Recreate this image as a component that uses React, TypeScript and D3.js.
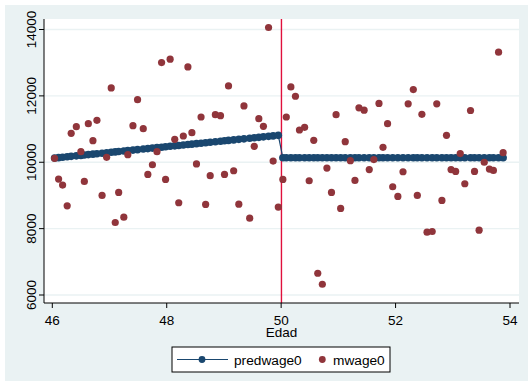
import React from "react";
import * as d3 from "d3";

const ages = [46.04, 46.11, 46.18, 46.26, 46.33, 46.42, 46.50, 46.56, 46.63, 46.71, 46.78, 46.87, 46.95, 47.03, 47.10, 47.16, 47.25, 47.32, 47.41, 47.49, 47.59, 47.67, 47.75, 47.83, 47.91, 47.98, 48.06, 48.14, 48.21, 48.29, 48.37, 48.44, 48.52, 48.60, 48.68, 48.76, 48.85, 48.94, 49.01, 49.08, 49.17, 49.26, 49.35, 49.45, 49.53, 49.61, 49.69, 49.78, 49.86, 49.95,
  50.03, 50.09, 50.17, 50.25, 50.32, 50.41, 50.49, 50.57, 50.64, 50.72, 50.80, 50.88, 50.96, 51.04, 51.12, 51.21, 51.29, 51.36, 51.45, 51.54, 51.62, 51.71, 51.78, 51.86, 51.95, 52.04, 52.13, 52.22, 52.31, 52.38, 52.46, 52.55, 52.64, 52.72, 52.81, 52.89, 52.97, 53.05, 53.13, 53.21, 53.31, 53.38, 53.46, 53.55, 53.64, 53.71, 53.80, 53.88];

const mwage0 = [10117, 9493, 9312, 8688, 10871, 11072, 10318, 9423, 11163, 10650, 11264, 9000, 10147, 12239, 8185, 9091, 8346, 10227, 11103, 11887, 11012, 9634, 9925, 10318, 13004, 9483, 13105, 10690, 8779, 10791, 12873, 10891, 9950, 11364, 8728, 9594, 11435, 11404, 9634, 12300, 9744, 8738, 11696, 8316, 10479, 11314, 11083, 14060, 10036, 8648,
  9483, 11364, 12270, 11988, 10972, 11052, 9443, 10660, 6656, 6324, 9825, 9091, 11435, 8608, 10620, 10047, 9453, 11640, 11569, 9779, 10080, 11771, 10449, 11163, 9262, 8970, 9714, 11761, 12189, 9000, 11445, 7893, 7913, 11761, 8849, 10811, 9779, 9724, 10262, 9352, 11559, 9724, 7954, 10000, 9795, 9754, 13316, 10288];

const predwage0 = [10127, 10139, 10151, 10165, 10178, 10193, 10207, 10218, 10230, 10244, 10256, 10272, 10286, 10300, 10312, 10323, 10338, 10351, 10366, 10380, 10398, 10412, 10426, 10440, 10454, 10466, 10480, 10494, 10506, 10520, 10534, 10546, 10560, 10574, 10588, 10602, 10618, 10634, 10646, 10658, 10674, 10690, 10705, 10723, 10737, 10751, 10765, 10780, 10794, 10810,
  10135, 10135, 10135, 10135, 10135, 10135, 10135, 10135, 10135, 10135, 10135, 10135, 10135, 10135, 10135, 10135, 10135, 10135, 10135, 10135, 10135, 10135, 10135, 10135, 10135, 10135, 10135, 10135, 10135, 10135, 10135, 10135, 10135, 10135, 10135, 10135, 10135, 10135, 10135, 10135, 10135, 10135, 10135, 10135, 10135, 10135, 10135, 10135];

const xTicks = [46, 48, 50, 52, 54];
const yTicks = [6000, 8000, 10000, 12000, 14000];
const cutoff = [50];
const xLabel = "Edad";
const seriesNames = ["predwage0", "mwage0"];

const W = 528;
const H = 383;
const BG = "#EAF2F3";
const NAVY = "#1A476F";
const MAROON = "#90353B";
const RED = "#E0103C";
const FONT = "'Liberation Sans', Arial, sans-serif";

export default function App() {
  const plot = { left: 44, right: 519, top: 19, bottom: 303 };
  const x = d3.scaleLinear().domain([46, 54]).range([52.3, 510]);
  const y = d3.scaleLinear().domain([6000, 14000]).range([295, 29.5]);
  const line = d3
    .line<number>()
    .x((_, i) => x(ages[i]))
    .y((d) => y(d));

  return (
    <div style={{ position: "fixed", left: 0, top: 0, width: W, height: H }}>
      <svg width={W} height={H} style={{ display: "block" }} fontFamily={FONT}>
        <rect x={0} y={0} width={W} height={H} fill="#ffffff" />
        <rect x={5} y={5} width={W - 5} height={H - 7} fill={BG} />
        <rect x={plot.left} y={plot.top} width={plot.right - plot.left} height={plot.bottom - plot.top} fill="#ffffff" />
        {yTicks.map((t) => (
          <line key={"g" + t} x1={plot.left} x2={plot.right} y1={y(t)} y2={y(t)} stroke={BG} strokeWidth={1.3} />
        ))}
        {cutoff.map((c) => (
          <line key={"c" + c} x1={x(c) + 0.3} x2={x(c) + 0.3} y1={plot.top} y2={plot.bottom} stroke={RED} strokeWidth={1.4} />
        ))}
        <path d={line(predwage0) || ""} fill="none" stroke={NAVY} strokeWidth={1.2} />
        {predwage0.map((v, i) => (
          <circle key={"p" + i} cx={x(ages[i])} cy={y(v)} r={3.8} fill={NAVY} />
        ))}
        {mwage0.map((v, i) => (
          <circle key={"m" + i} cx={x(ages[i])} cy={y(v)} r={3.6} fill={MAROON} />
        ))}
        {/* axes */}
        <line x1={plot.left} x2={plot.left} y1={plot.top} y2={plot.bottom} stroke="#000" strokeWidth={1} />
        <line x1={plot.left} x2={plot.right} y1={plot.bottom} y2={plot.bottom} stroke="#000" strokeWidth={1} />
        {yTicks.map((t) => (
          <g key={"yt" + t}>
            <line x1={plot.left - 5} x2={plot.left} y1={y(t)} y2={y(t)} stroke="#000" strokeWidth={1} />
            <text
              transform={`translate(35.5,${y(t)}) rotate(-90)`}
              textAnchor="middle"
              fontSize={13.5}
              fill="#000"
            >
              {t}
            </text>
          </g>
        ))}
        {xTicks.map((t) => (
          <g key={"xt" + t}>
            <line x1={x(t)} x2={x(t)} y1={plot.bottom} y2={plot.bottom + 5} stroke="#000" strokeWidth={1} />
            <text x={x(t)} y={324.5} textAnchor="middle" fontSize={13.5} fill="#000">
              {t}
            </text>
          </g>
        ))}
        <text x={(plot.left + plot.right) / 2} y={337} textAnchor="middle" fontSize={13.5} fill="#000">
          {xLabel}
        </text>
        {/* legend */}
        <rect x={172} y={347} width={218} height={25} fill="#ffffff" stroke="#000" strokeWidth={1} />
        <line x1={177} x2={228} y1={359.5} y2={359.5} stroke={NAVY} strokeWidth={1.2} />
        <circle cx={202} cy={359.5} r={3.4} fill={NAVY} />
        <text x={234} y={364.5} fontSize={13.7} fill="#000">
          {seriesNames[0]}
        </text>
        <circle cx={322.3} cy={359.5} r={3.4} fill={MAROON} />
        <text x={333} y={364.5} fontSize={13.7} fill="#000">
          {seriesNames[1]}
        </text>
      </svg>
    </div>
  );
}
